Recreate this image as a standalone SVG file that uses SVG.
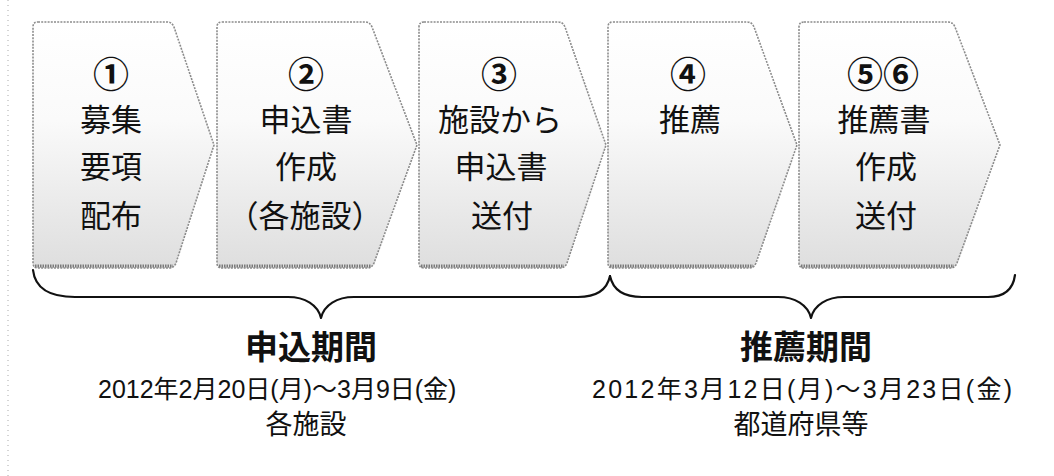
<svg xmlns="http://www.w3.org/2000/svg" width="1054" height="476" viewBox="0 0 1054 476">
<style>
.chev{fill:url(#g);stroke:#8c8c8c;stroke-width:1.6;stroke-dasharray:2 1.2;stroke-linejoin:round}
.base{fill:none;stroke:#7a7a7a;stroke-width:3;stroke-dasharray:1.5 1}
.t{font-family:"Noto Sans CJK JP","Noto Sans",sans-serif;font-size:31px;fill:#111;text-anchor:middle}
.n{font-family:"Noto Sans CJK JP","Noto Sans",sans-serif;font-size:36px;font-weight:bold;fill:#111;text-anchor:middle}
.h{font-family:"Noto Sans CJK JP",sans-serif;font-size:33px;font-weight:bold;fill:#111;text-anchor:middle}
.d{font-family:"Liberation Sans","Noto Sans CJK JP",sans-serif;font-size:25px;fill:#111}
.s{font-family:"Noto Sans CJK JP",sans-serif;font-size:27px;fill:#111;text-anchor:middle}
.brace{fill:none;stroke:#111;stroke-width:2.2;stroke-linecap:round;stroke-linejoin:round}
</style>
<defs>
<linearGradient id="g" x1="0" y1="0" x2="0" y2="1">
<stop offset="0" stop-color="#ffffff"/>
<stop offset="0.4" stop-color="#fafafa"/>
<stop offset="1" stop-color="#dedede"/>
</linearGradient>
</defs>
<rect width="1054" height="476" fill="#fff"/>
<line x1="8" y1="0" x2="8" y2="476" stroke="#aaa" stroke-width="1" stroke-dasharray="1 4"/>

<g id="step1">
<path class="chev" d="M38,22 L167,22 Q172,22 174,27 L214,145 L176,263 Q174,268 169,268 L38,268 Q33,268 33,263 L33,27 Q33,22 38,22 Z"/>
<path class="base" d="M35,266 L173,266"/>
<text class="n" x="111" y="88">①</text>
<text class="t" x="111" y="131">募集</text>
<text class="t" x="111" y="178">要項</text>
<text class="t" x="111" y="227">配布</text>
</g>

<g id="step2">
<path class="chev" d="M222,22 L365,22 Q370,22 372,27 L417,145 L374,263 Q372,268 367,268 L222,268 Q217,268 217,263 L217,27 Q217,22 222,22 Z"/>
<path class="base" d="M219,266 L371,266"/>
<text class="n" x="306" y="88">②</text>
<text class="t" x="306" y="131">申込書</text>
<text class="t" x="306" y="178">作成</text>
<text class="t" x="305" y="227">（各施設）</text>
</g>

<g id="step3">
<path class="chev" d="M424,22 L558,22 Q563,22 565,27 L606,145 L567,263 Q565,268 560,268 L424,268 Q419,268 419,263 L419,27 Q419,22 424,22 Z"/>
<path class="base" d="M421,266 L564,266"/>
<text class="n" x="499" y="88">③</text>
<text class="t" x="500" y="131">施設から</text>
<text class="t" x="501" y="178">申込書</text>
<text class="t" x="502" y="227">送付</text>
</g>

<g id="step4">
<path class="chev" d="M613,22 L747,22 Q752,22 754,27 L797,145 L756,263 Q754,268 749,268 L613,268 Q608,268 608,263 L608,27 Q608,22 613,22 Z"/>
<path class="base" d="M610,266 L753,266"/>
<text class="n" x="688" y="88">④</text>
<text class="t" x="690" y="131">推薦</text>
</g>

<g id="step5">
<path class="chev" d="M804,22 L948,22 Q953,22 955,27 L1000,145 L957,263 Q955,268 950,268 L804,268 Q799,268 799,263 L799,27 Q799,22 804,22 Z"/>
<path class="base" d="M801,266 L954,266"/>
<text class="n" x="883" y="88">⑤⑥</text>
<text class="t" x="884" y="131">推薦書</text>
<text class="t" x="886" y="178">作成</text>
<text class="t" x="886" y="227">送付</text>
</g>

<g id="connectors">
<path class="brace" d="M33,270 C35,288 48,297 75,297 L288,297 C305,297 318,305 321,318 C324,305 337,297 354,297 L578,297 C596,297 607,290 610,276"/>
<path class="brace" d="M610,276 C613,290 624,297 642,297 L778,297 C795,297 808,305 811,318 C814,305 827,297 844,297 L988,297 C1004,297 1013,290 1015,275"/>
</g>

<g id="period1">
<text class="h" x="311" y="359">申込期間</text>
<text class="d" x="98" y="398">2012年2月20日(月)～3月9日(金)</text>
<text class="s" x="306" y="434">各施設</text>
</g>

<g id="period2">
<text class="h" x="806" y="359">推薦期間</text>
<text class="d" x="592" y="398" textLength="420" lengthAdjust="spacing">2012年3月12日(月)～3月23日(金)</text>
<text class="s" x="801" y="434">都道府県等</text>
</g>
</svg>
